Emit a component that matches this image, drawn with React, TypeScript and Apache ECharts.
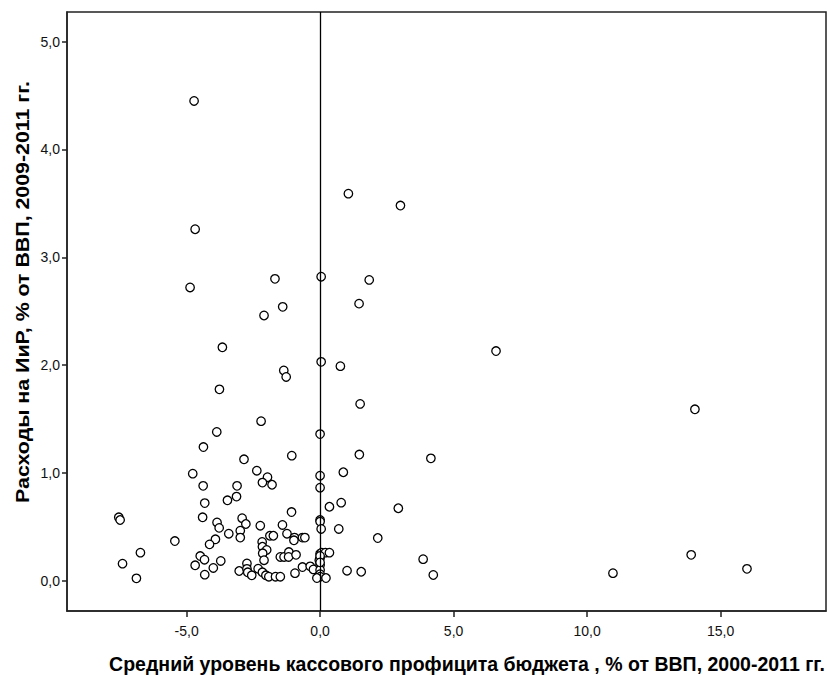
import React, { useEffect, useRef } from "react";
import * as echarts from "echarts";

const surplus: number[] = [
  -4.72, -4.68, -4.87, -1.69, -1.40, -2.10,
  1.06, 3.01, 0.04, 1.84, 1.46, 6.59,
  0.04, 0.76, 1.50, 0.0, 1.47, 4.15,
  0.87, 0.0, 0.0, 0.35, 0.79, 2.93,
  0.0, 0.0, 0.04, 0.70, 2.16, 3.86,
  4.24, 1.01, 1.54,
  14.04, 13.90, 15.99, 10.97,
  -3.66, -1.36, -1.27, -3.77, -2.21, -3.87, -4.37, -2.85, -1.06, -4.77,
  -2.37, -1.97, -2.16, -1.80, -4.38, -3.11, -3.13, -3.47, -4.32, -7.54,
  -7.49, -4.40, -3.86, -3.78, -2.92, -2.78, -1.07, -2.24, -1.41, -3.42,
  -2.99, -2.99, -1.88, -1.75, -1.24, -0.96, -0.98, -0.66, -0.57, -5.44,
  -3.92, -4.14, -2.17, -2.16, -2.0, -2.15, -2.1, -6.73, -7.40, -6.88,
  -4.49, -4.33, -4.68, -3.72, -4.0, -4.32, -3.03, -2.74, -2.74, -2.71,
  -2.56, -2.32, -2.16, -2.03, -1.92, -1.67, -1.49, -1.49, -1.35, -1.17,
  -1.18, -0.90, -0.94, -0.66, -0.37, -0.25,
  0.0, 0.06, 0.2, 0.35, 0.0, -0.03, 0.0, 0.0, 0.0, 0.0, -0.12, 0.22, 0.0, 0.0,
];

const rnd: number[] = [
  4.45, 3.26, 2.72, 2.80, 2.54, 2.46,
  3.59, 3.48, 2.82, 2.79, 2.57, 2.13,
  2.03, 1.99, 1.64, 1.36, 1.17, 1.135,
  1.006, 0.974, 0.863, 0.686, 0.724, 0.672,
  0.563, 0.548, 0.48, 0.48, 0.396, 0.20,
  0.053, 0.093, 0.083,
  1.59, 0.24, 0.11, 0.07,
  2.165, 1.95, 1.89, 1.775, 1.48, 1.38, 1.24, 1.126, 1.16, 0.993,
  1.02, 0.96, 0.91, 0.89, 0.88, 0.88, 0.78, 0.746, 0.72, 0.588,
  0.563, 0.588, 0.54, 0.49, 0.58, 0.526, 0.637, 0.51, 0.517, 0.436,
  0.464, 0.40, 0.417, 0.417, 0.436, 0.40, 0.375, 0.40, 0.40, 0.368,
  0.384, 0.337, 0.36, 0.315, 0.285, 0.254, 0.19, 0.26, 0.158, 0.022,
  0.229, 0.195, 0.143, 0.183, 0.118, 0.056, 0.09, 0.16, 0.11, 0.078,
  0.05, 0.111, 0.078, 0.05, 0.037, 0.037, 0.037, 0.22, 0.22, 0.266,
  0.22, 0.24, 0.07, 0.127, 0.133, 0.105,
  0.25, 0.26, 0.26, 0.26, 0.21, 0.19, 0.145, 0.10, 0.06, 0.037, 0.025, 0.025, 0.23, 0.17,
];

const xTicks: number[] = [-5, 0, 5, 10, 15];
const yTicks: number[] = [0, 1, 2, 3, 4, 5];

const xTitle = "Средний уровень кассового профицита бюджета , % от ВВП, 2000-2011 гг.";
const yTitle = "Расходы на ИиР, % от ВВП, 2009-2011 гг.";

const fmt = (v: number) => v.toFixed(1).replace(".", ",");

const TITLE_FONT = "'Liberation Sans', Arial, sans-serif";

function measure(text: string, size: number): number {
  const c = document.createElement("canvas");
  const ctx = c.getContext("2d");
  if (!ctx) return text.length * size * 0.6;
  ctx.font = `bold ${size}px ${TITLE_FONT}`;
  return ctx.measureText(text).width;
}

export default function App() {
  const ref = useRef<HTMLDivElement>(null);
  useEffect(() => {
    document.body.style.margin = "0";
    if (!ref.current) return;
    const chart = echarts.init(ref.current, undefined, { renderer: "svg" });
    const data = surplus.map((x, i) => [x, rnd[i]]);
    const labelFont = {
      fontFamily: "'Liberation Sans', Arial, sans-serif",
      fontSize: 14,
      color: "#111",
    };
    const xSize = 21;
    const ySize = 19;
    const xScale = 716 / measure(xTitle, xSize);
    const yScale = 422 / measure(yTitle, ySize);
    chart.setOption({
      animation: false,
      backgroundColor: "#fff",
      grid: {
        left: 67,
        right: 1,
        top: 12,
        bottom: 64,
        show: true,
        borderColor: "#222",
        borderWidth: 1.5,
      },
      xAxis: {
        type: "value",
        min: -9.48,
        max: 18.95,
        splitLine: { show: false },
        axisLine: { show: true, onZero: false, lineStyle: { color: "#222", width: 1.5 } },
        axisTick: {
          show: true,
          customValues: xTicks,
          length: 6,
          lineStyle: { color: "#222", width: 1.5 },
        },
        axisLabel: {
          customValues: xTicks,
          formatter: (v: number) => fmt(v),
          margin: 13,
          ...labelFont,
        },
      },
      yAxis: {
        type: "value",
        min: -0.281,
        max: 5.275,
        splitLine: { show: false },
        axisLine: { show: true, onZero: false, lineStyle: { color: "#222", width: 1.5 } },
        axisTick: {
          show: true,
          customValues: yTicks,
          length: 5,
          lineStyle: { color: "#222", width: 1.5 },
        },
        axisLabel: {
          customValues: yTicks,
          formatter: (v: number) => fmt(v),
          margin: 7,
          ...labelFont,
        },
      },
      series: [
        {
          type: "scatter",
          data,
          symbol: "circle",
          symbolSize: 8.5,
          itemStyle: { color: "#fff", borderColor: "#000", borderWidth: 1.3, opacity: 1 },
          markLine: {
            silent: true,
            symbol: ["none", "none"],
            label: { show: false },
            lineStyle: { color: "#000", width: 1.3, type: "solid" },
            data: [{ xAxis: 0 }],
          },
        },
      ],
      graphic: [
        {
          type: "text",
          x: 467,
          y: 664,
          scaleX: xScale,
          style: {
            text: xTitle,
            fontFamily: TITLE_FONT,
            fontWeight: "bold",
            fontSize: xSize,
            fill: "#000",
            align: "center",
            verticalAlign: "middle",
          },
        },
        {
          type: "text",
          x: 22,
          y: 292,
          rotation: Math.PI / 2,
          scaleX: yScale,
          style: {
            text: yTitle,
            fontFamily: TITLE_FONT,
            fontWeight: "bold",
            fontSize: ySize,
            fill: "#000",
            align: "center",
            verticalAlign: "middle",
          },
        },
      ],
    });
    return () => chart.dispose();
  }, []);
  return <div ref={ref} style={{ width: 827, height: 675 }} />;
}
